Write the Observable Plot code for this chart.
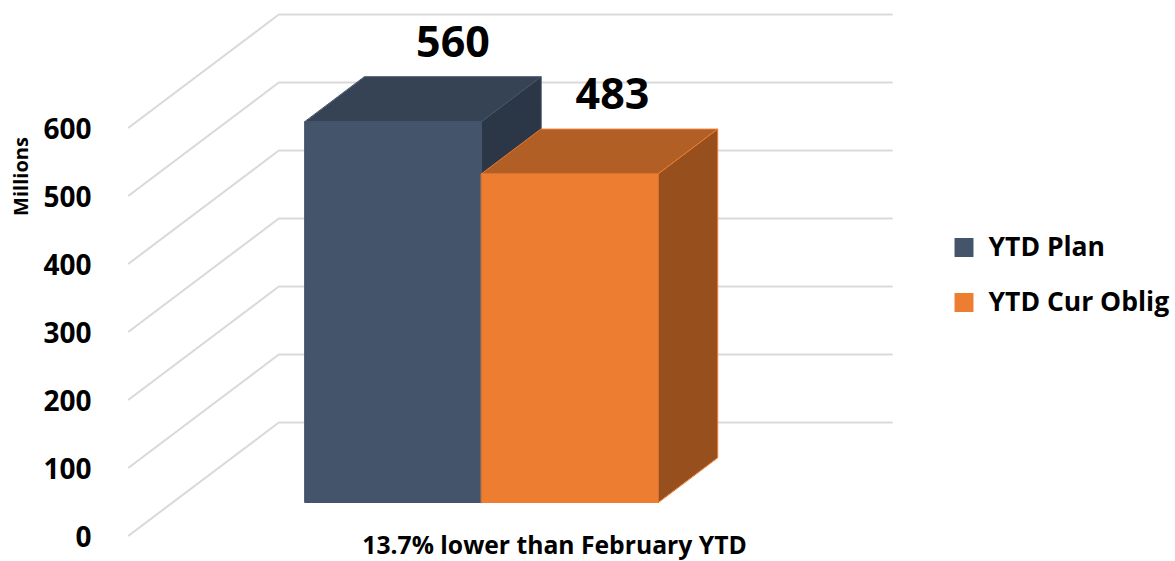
<!DOCTYPE html>
<html>
<head>
<meta charset="utf-8">
<script src="https://cdn.jsdelivr.net/npm/d3@7"></script>
<script src="https://cdn.jsdelivr.net/npm/@observablehq/plot@0.6"></script>
<style>
html,body{margin:0;padding:0;background:#fff}
svg{display:block}
</style>
</head>
<body>
<div id="chart"></div>
<script>
const series = ["YTD Plan", "YTD Cur Oblig"];
const values = [560, 483];
const tickValues = [0, 100, 200, 300, 400, 500, 600];
const caption = "13.7% lower than February YTD";
const unitLabel = "Millions";
const frontColors = ["#44546a", "#ed7d31"];
const topColors = ["#364355", "#b25f25"];
const sideColors = ["#2b3747", "#964f1d"];
const edgeColors = ["#44546a", "#ed7d31"];

// Oblique projection of the 3D chart: depth 0 = front of floor, 1 = back wall
const depthX = 150 / 176.5;  // x units per depth
const depthY = 113 / 0.68;   // value units per depth
const pt = (u, v, d) => ({x: u + d * depthX, y: v + d * depthY});
const [near, far] = [0.292, 0.69];
const floorLeft = -0.75, floorRight = 2.723;

const gridLines = tickValues.flatMap((v) => [
  {tick: v, ...pt(floorLeft, v, 0)},
  {tick: v, ...pt(floorLeft, v, 1)},
  {tick: v, ...pt(floorRight, v, 1)}
]);

const face = (points, fill, stroke) =>
  Plot.line(points, {x: "x", y: "y", curve: "linear-closed", fill, stroke, strokeWidth: 1});

const barMarks = values.flatMap((v, i) => [
  face([pt(i, v, near), pt(i + 1, v, near), pt(i + 1, v, far), pt(i, v, far)], topColors[i], edgeColors[i]),
  face([pt(i + 1, 0, near), pt(i + 1, v, near), pt(i + 1, v, far), pt(i + 1, 0, far)], sideColors[i], edgeColors[i]),
  face([pt(i, 0, near), pt(i + 1, 0, near), pt(i + 1, v, near), pt(i, v, near)], frontColors[i], frontColors[i])
]);

const font = "'Open Sans', sans-serif";
const labelDx = [0, -17];
const labelMarks = values.map((v, i) =>
  Plot.text([{...pt(i + 0.5, v, far), label: String(v)}], {x: "x", y: "y", text: "label", dx: labelDx[i], dy: -33.5, fontSize: 43, fontWeight: 700, fill: "#000", lineAnchor: "middle"})
);

const legendMarks = series.flatMap((s, i) => [
  Plot.dot([s], {frameAnchor: "top-left", dx: 963.5 - 91, dy: 247 + i * 55, symbol: "square", r: 10.7, fill: frontColors[i], stroke: "none"}),
  Plot.text([s], {frameAnchor: "top-left", dx: 988 - 91, dy: 247 + i * 55, text: (d) => d, textAnchor: "start", lineAnchor: "middle", fontSize: 26.5, fontWeight: 700, fill: "#000"})
]);

const chart = Plot.plot({
  width: 1175,
  height: 561,
  marginLeft: 91,
  marginRight: 0,
  marginTop: 0,
  marginBottom: 0,
  style: {fontFamily: font, background: "#fff", overflow: "visible"},
  x: {type: "linear", domain: [0, 2], range: [260.7, 613.7], axis: null},
  y: {type: "linear", domain: [0, 600], range: [535, 127], axis: null},
  marks: [
    Plot.line(gridLines, {x: "x", y: "y", z: "tick", stroke: "#d9d9d9", strokeWidth: 2}),
    ...barMarks,
    Plot.axisY({anchor: "left", ticks: tickValues, tickSize: 0, tickPadding: 0, label: null, fontSize: 28, fontWeight: 700, fill: "#000", dy: 3}),
    ...labelMarks,
    Plot.text([caption], {frameAnchor: "top-left", dx: 554 - 91, dy: 546, text: (d) => d, textAnchor: "middle", lineAnchor: "middle", fontSize: 24.7, fontWeight: 700, fill: "#000"}),
    Plot.text([unitLabel], {frameAnchor: "top-left", dx: 21 - 91, dy: 176, text: (d) => d, rotate: -90, textAnchor: "middle", lineAnchor: "middle", fontSize: 20, fontWeight: 700, fill: "#000"}),
    ...legendMarks
  ]
});
document.getElementById("chart").append(chart);
</script>
</body>
</html>
